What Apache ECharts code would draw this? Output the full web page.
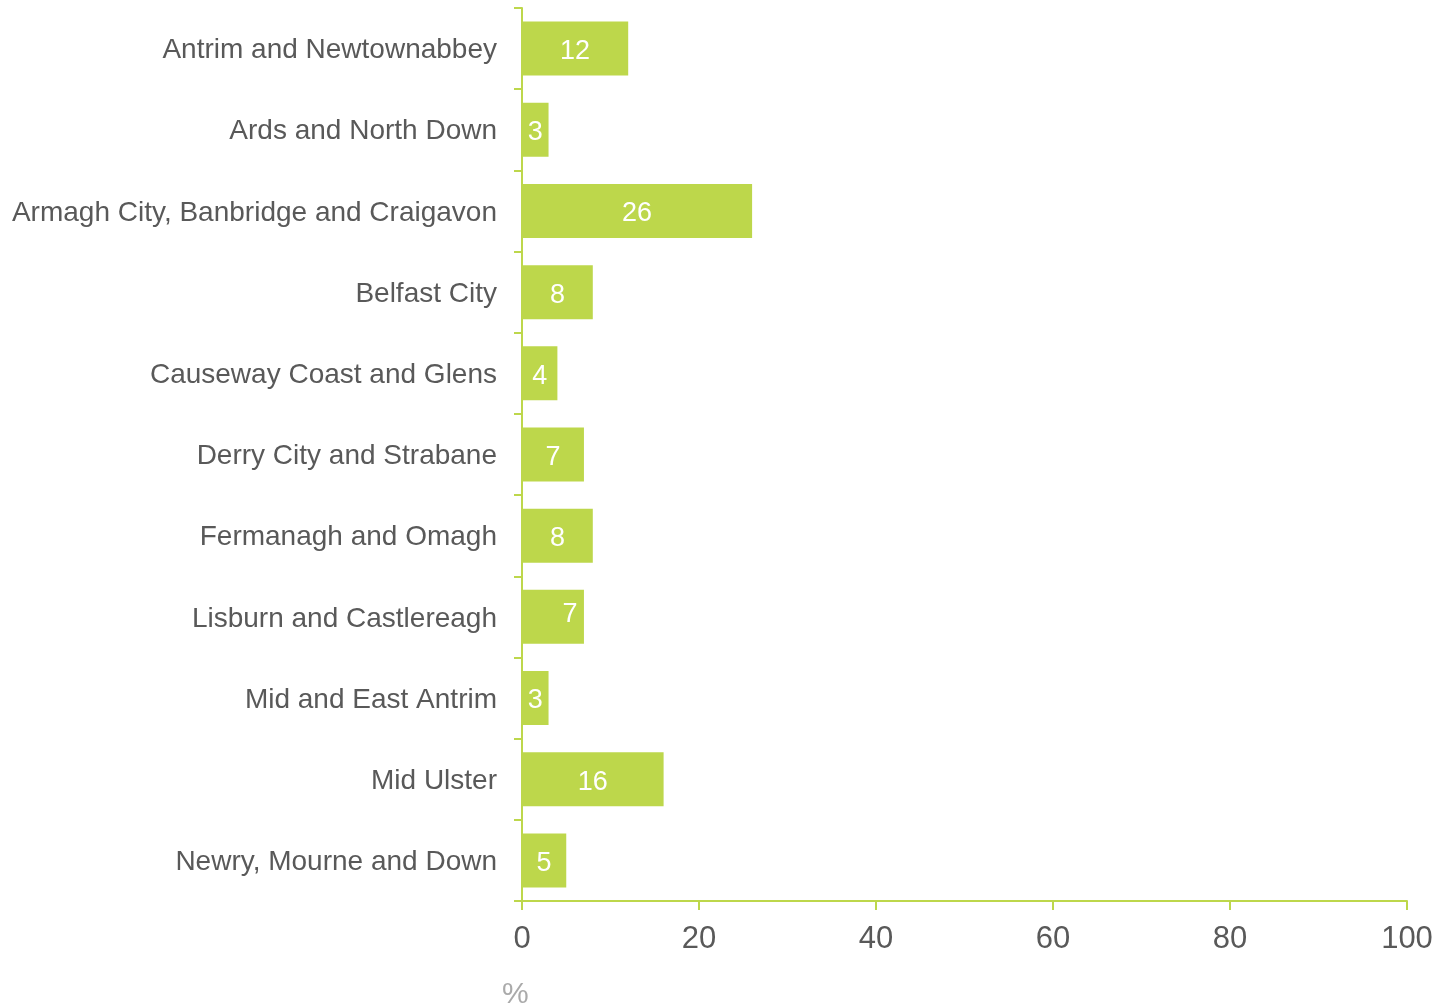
<!DOCTYPE html>
<html>
<head>
<meta charset="utf-8">
<script src="https://cdn.jsdelivr.net/npm/echarts@6/dist/echarts.min.js"></script>
<style>
  html, body { margin: 0; padding: 0; background: #ffffff; }
  #chart { width: 1438px; height: 1008px; }
</style>
</head>
<body>
<div id="chart"></div>
<script>
// Local government districts, listed top to bottom
const districts = [
  'Antrim and Newtownabbey',
  'Ards and North Down',
  'Armagh City, Banbridge and Craigavon',
  'Belfast City',
  'Causeway Coast and Glens',
  'Derry City and Strabane',
  'Fermanagh and Omagh',
  'Lisburn and Castlereagh',
  'Mid and East Antrim',
  'Mid Ulster',
  'Newry, Mourne and Down'
];
// Share of total (%)
const shares = [12, 3, 26, 8, 4, 7, 8, 7, 3, 16, 5];
const axisTicks = [0, 20, 40, 60, 80, 100];

const green = '#bdd74b';
const textGrey = '#595959';
const font = '"Liberation Sans", Arial, sans-serif';

const chart = echarts.init(document.getElementById('chart'), null, { renderer: 'canvas' });

const barData = shares.map((v, i) => {
  const item = { value: v };
  // Lisburn label sits slightly right of centre and a little higher
  if (i === 7) item.label = { offset: [17, -2] };
  return item;
});

chart.setOption({
  animation: false,
  backgroundColor: '#ffffff',
  grid: { left: 522, right: 31, top: 8, bottom: 107, containLabel: false },
  xAxis: {
    type: 'value',
    min: axisTicks[0],
    max: axisTicks[axisTicks.length - 1],
    interval: axisTicks[1] - axisTicks[0],
    axisLine: { show: true, lineStyle: { color: green, width: 2 } },
    axisTick: { show: true, length: 9, lineStyle: { color: green, width: 2 } },
    splitLine: { show: false },
    axisLabel: { color: textGrey, fontSize: 31, fontFamily: font, margin: 23 }
  },
  yAxis: {
    type: 'category',
    inverse: true,
    data: districts,
    axisLine: { show: true, lineStyle: { color: green, width: 2 } },
    axisTick: { show: true, length: 8, lineStyle: { color: green, width: 2 } },
    axisLabel: {
      margin: 25,
      formatter: (name) => '{name|' + name + '}',
      rich: {
        name: { color: textGrey, fontSize: 28, fontFamily: font, padding: [4, 0, 0, 0] }
      }
    }
  },
  graphic: [{
    type: 'text',
    left: 502,
    top: 980,
    style: { text: '%', fill: '#aaaaaa', font: '30px "Liberation Sans", Arial, sans-serif' }
  }],
  series: [{
    type: 'bar',
    data: barData,
    barWidth: 54,
    itemStyle: { color: green },
    label: {
      show: true,
      position: 'inside',
      color: '#ffffff',
      fontSize: 27,
      fontFamily: font,
      offset: [0, 3]
    }
  }]
});
</script>
</body>
</html>
